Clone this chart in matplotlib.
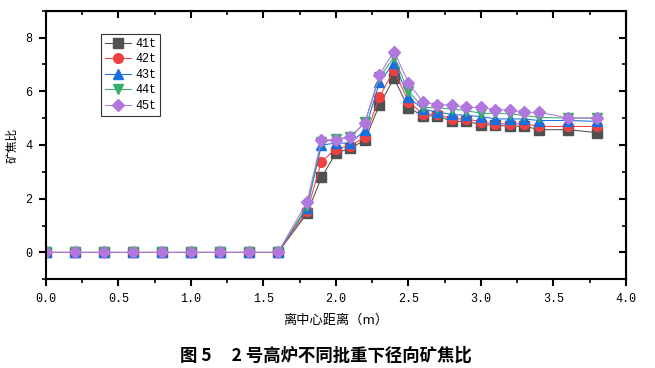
import numpy as np
import matplotlib.pyplot as plt
from matplotlib.ticker import MultipleLocator

plt.rcParams['font.family'] = ['Liberation Mono', 'Noto Sans CJK SC', 'DejaVu Sans']

# 离中心距离 (m)
x = [0.0, 0.2, 0.4, 0.6, 0.8, 1.0, 1.2, 1.4, 1.6, 1.8, 1.9, 2.0, 2.1, 2.2,
     2.3, 2.4, 2.5, 2.6, 2.7, 2.8, 2.9, 3.0, 3.1, 3.2, 3.3, 3.4, 3.6, 3.8]
zeros = [0.0] * 9

s41 = zeros + [1.45, 2.80, 3.70, 3.88, 4.19, 5.50, 6.48, 5.38, 5.09, 5.08, 4.88,
               4.88, 4.76, 4.74, 4.70, 4.70, 4.57, 4.57, 4.46]
s42 = zeros + [1.53, 3.38, 3.86, 3.98, 4.29, 5.80, 6.79, 5.61, 5.16, 5.14, 4.97,
               4.97, 4.86, 4.79, 4.79, 4.79, 4.69, 4.69, 4.69]
s43 = zeros + [1.65, 4.00, 4.07, 4.07, 4.56, 6.33, 7.07, 5.77, 5.34, 5.22, 5.14,
               5.10, 5.06, 4.97, 4.97, 4.97, 4.91, 4.91, 4.88]
s44 = zeros + [1.72, 4.10, 4.23, 4.29, 4.85, 6.52, 7.26, 6.00, 5.40, 5.38, 5.34,
               5.28, 5.18, 5.18, 5.16, 5.10, 5.03, 5.00, 5.00]
s45 = zeros + [1.88, 4.19, 4.19, 4.29, 4.83, 6.62, 7.48, 6.32, 5.59, 5.50, 5.49,
               5.40, 5.40, 5.31, 5.31, 5.21, 5.22, 5.01, 5.01]

labels = ["41t", "42t", "43t", "44t", "45t"]
series = [s41, s42, s43, s44, s45]
colors = ["#515151", "#F14040", "#1A6FDF", "#37AD6B", "#B177DE"]
markers = ["s", "o", "^", "v", "D"]
msizes = [6.5, 7, 7, 7, 6.5]

fig = plt.figure(figsize=(6.55, 3.68), dpi=100)
ax = fig.add_axes([0.0702, 0.241, 0.8855, 0.730])

for y, lab, c, m, ms in zip(series, labels, colors, markers, msizes):
    ax.plot(x, y, color=c, marker=m, markersize=ms, linewidth=0.75, label=lab)

ax.set_xlim(0, 4.0)
ax.set_ylim(-1, 9)
ax.xaxis.set_major_locator(MultipleLocator(0.5))
ax.xaxis.set_minor_locator(MultipleLocator(0.25))
ax.yaxis.set_major_locator(MultipleLocator(2))
ax.yaxis.set_minor_locator(MultipleLocator(1))
ax.xaxis.set_major_formatter(plt.FormatStrFormatter('%.1f'))

for sp in ax.spines.values():
    sp.set_linewidth(1.5)
ax.tick_params(which='major', direction='out', length=5, width=1.5, labelsize=8.5)
ax.tick_params(axis='x', which='major', pad=5)
ax.tick_params(axis='y', which='major', pad=5)
ax.tick_params(which='minor', direction='out', length=3, width=1.2)

# 上、右侧向内刻度
top = ax.secondary_xaxis('top')
top.xaxis.set_major_locator(MultipleLocator(0.5))
top.xaxis.set_minor_locator(MultipleLocator(0.25))
top.tick_params(which='major', direction='in', length=5, width=1.5, labeltop=False)
top.tick_params(which='minor', direction='in', length=3, width=1.2)
right = ax.secondary_yaxis('right')
right.yaxis.set_major_locator(MultipleLocator(2))
right.yaxis.set_minor_locator(MultipleLocator(1))
right.tick_params(which='major', direction='in', length=5, width=1.5, labelright=False)
right.tick_params(which='minor', direction='in', length=3, width=1.2)

cjk = ['Noto Sans CJK SC', 'DejaVu Sans']
ax.set_xlabel("离中心距离（m）", fontsize=9.5, family=cjk, labelpad=6)
ax.set_ylabel("矿焦比", fontsize=8.5, family=cjk, labelpad=5)

leg = ax.legend(loc='upper left', bbox_to_anchor=(0.095, 0.915), fontsize=8.5,
                frameon=True, fancybox=False, edgecolor='black', handlelength=2.2,
                borderpad=0.35, labelspacing=0.3, handletextpad=0.35, borderaxespad=0)
leg.get_frame().set_linewidth(0.8)

fig.text(0.497, 0.035, "图 5     2 号高炉不同批重下径向矿焦比", ha='center', va='center',
         fontsize=12.5, fontweight='bold', family=cjk)

fig.savefig("out.png", dpi=100)
